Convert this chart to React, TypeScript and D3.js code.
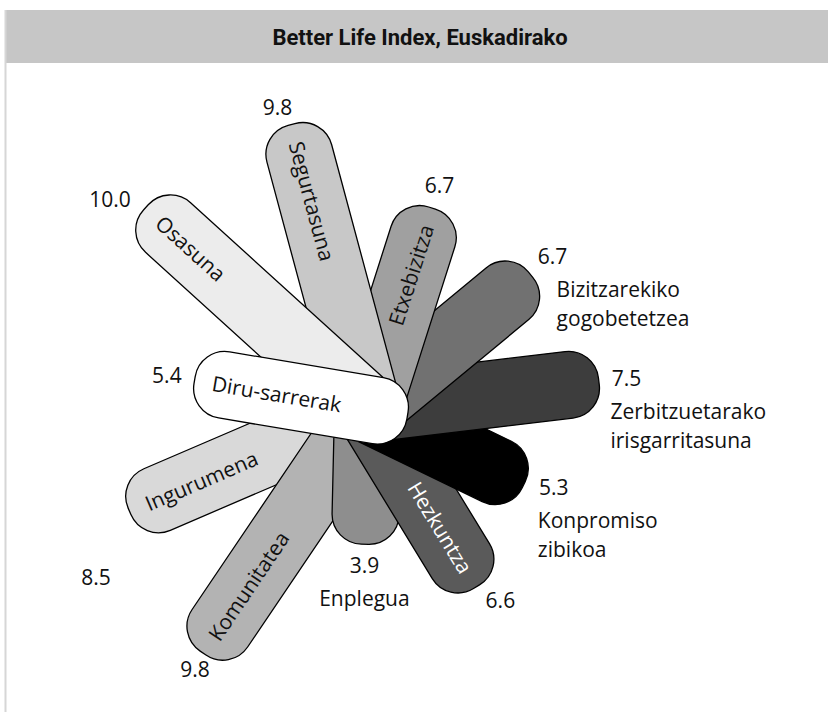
import * as d3 from "d3";
import type { ReactElement } from "react";

// Better Life Index topics, clockwise starting with the petal on top
const categories = [
  "Diru-sarrerak",
  "Osasuna",
  "Segurtasuna",
  "Etxebizitza",
  "Bizitzarekiko gogobetetzea",
  "Zerbitzuetarako irisgarritasuna",
  "Konpromiso zibikoa",
  "Hezkuntza",
  "Enplegua",
  "Komunitatea",
  "Ingurumena",
];
const values = [5.4, 10.0, 9.8, 6.7, 6.7, 7.5, 5.3, 6.6, 3.9, 9.8, 8.5];
const valueLabels = values.map((v) => v.toFixed(1));
// names written beside the petal instead of inside it
const outsideNames = [
  "Bizitzarekiko gogobetetzea",
  "Zerbitzuetarako irisgarritasuna",
  "Konpromiso zibikoa",
  "Enplegua",
];

const palette = [
  "#ffffff", "#ececec", "#c8c8c8", "#a0a0a0", "#717171", "#3d3d3d",
  "#000000", "#5a5a5a", "#8e8e8e", "#b3b3b3", "#d9d9d9",
];

// hand tweaks for the value / name labels that the original chart moved around
const valueNudge: Record<string, [number, number]> = {
  Osasuna: [-12, 13],
  Segurtasuna: [-8, 5],
  "Konpromiso zibikoa": [4, -10],
  Hezkuntza: [10, -9],
  Komunitatea: [7, -6],
  Ingurumena: [-7, 54],
};
const nameNudge: Record<string, number> = { "Bizitzarekiko gogobetetzea": 20 };

const width = 828;
const height = 715;
const center = { x: 368, y: 409 } as const;
const petalWidth = 67;
const cornerR = 30;
const topOverhang = 40;
const labelFont = "'Open Sans', 'Noto Sans', sans-serif";

// petal along +x: flat inner end at x0, rounded outer end at x1
const petalPath = (x0: number, x1: number, h: number, r: number): string => {
  const p = d3.path();
  p.moveTo(x0, -h);
  p.lineTo(x1 - r, -h);
  p.arcTo(x1, -h, x1, -h + r, r);
  p.lineTo(x1, h - r);
  p.arcTo(x1, h, x1 - r, h, r);
  p.lineTo(x0, h);
  p.closePath();
  return p.toString();
};

export default function App(): ReactElement {
  const n = categories.length;
  const lengthScale = d3.scaleLinear().domain([0, 10]).range([30, 300]);
  // compass angle (deg, clockwise from north) of each petal
  const angleScale = d3.scaleLinear().domain([0, n]).range([279.5, 279.5 + 360]);

  const petals = categories.map((name, i) => {
    const a = (angleScale(i) * Math.PI) / 180;
    const dx = Math.sin(a);
    const dy = -Math.cos(a);
    const len = lengthScale(values[i]);
    const rot = (Math.atan2(dy, dx) * 180) / Math.PI;
    return { name, i, dx, dy, len, rot, fill: palette[i] };
  });

  const drawOrder = [...petals].reverse();

  return (
    <svg
      width={width}
      height={height}
      viewBox={`0 0 ${width} ${height}`}
      style={{ position: "absolute", left: 0, top: 0, background: "#fff" }}
    >
      <rect x={5} y={10} width={width - 5} height={53} fill="#c6c6c6" />
      <line x1={5.5} x2={5.5} y1={10} y2={712} stroke="#d6d6d6" strokeWidth={2} />
      <text
        x={420}
        y={37}
        textAnchor="middle"
        dominantBaseline="central"
        fontFamily="'Liberation Sans Narrow', 'Roboto', sans-serif"
        fontWeight={700}
        fontSize={22}
        fill="#111"
      >
        Better Life Index, Euskadirako
      </text>

      {drawOrder.map((p) => {
        const inside = !outsideNames.includes(p.name);
        const pointsRight = p.dx > 0;
        const textRot = pointsRight ? 0 : 180;
        const light = d3.hsl(p.fill).l > 0.4;
        return (
          <g key={p.name} transform={`translate(${center.x},${center.y}) rotate(${p.rot})`}>
            {p.i === 0 ? (
              <rect
                x={-topOverhang}
                y={-petalWidth / 2}
                width={p.len + topOverhang}
                height={petalWidth}
                rx={cornerR}
                ry={cornerR}
                fill={p.fill}
                stroke="#000"
                strokeWidth={1.3}
              />
            ) : (
              <path
                d={petalPath(0, p.len, petalWidth / 2, cornerR)}
                fill={p.fill}
                stroke="#000"
                strokeWidth={1.3}
                strokeLinejoin="round"
              />
            )}
            {inside && (
              <text
                transform={`translate(${p.len - 18},0) rotate(${textRot})`}
                textAnchor={pointsRight ? "end" : "start"}
                dominantBaseline="central"
                fontFamily={labelFont}
                fontSize={21}
                fill={light ? "#111" : "#fff"}
              >
                {p.name}
              </text>
            )}
          </g>
        );
      })}

      {petals.map((p) => {
        const label = valueLabels[p.i];
        const hw = label.length * 5;
        const hh = 8;
        const off = 12 + hw * Math.abs(p.dx) + hh * Math.abs(p.dy);
        const nudge = valueNudge[p.name] ?? [0, 0];
        const tipX = center.x + p.dx * p.len;
        const tipY = center.y + p.dy * p.len;
        const vx = tipX + p.dx * off + nudge[0];
        const vy = tipY + p.dy * off + nudge[1];
        const outside = outsideNames.includes(p.name);
        const lines = p.name.split(" ");
        const alignLeft = outside && p.dx > 0.3;
        const nameX = alignLeft ? vx - hw - 1 + (nameNudge[p.name] ?? 0) : vx;
        return (
          <g key={`lab-${p.name}`} fontFamily={labelFont} fontSize={21} fill="#111">
            <text x={vx} y={vy} textAnchor="middle" dominantBaseline="central">
              {label}
            </text>
            {outside &&
              lines.map((ln, k) => (
                <text
                  key={ln}
                  x={nameX}
                  y={vy + 33 + k * 29}
                  textAnchor={alignLeft ? "start" : "middle"}
                  dominantBaseline="central"
                >
                  {ln}
                </text>
              ))}
          </g>
        );
      })}
    </svg>
  );
}
